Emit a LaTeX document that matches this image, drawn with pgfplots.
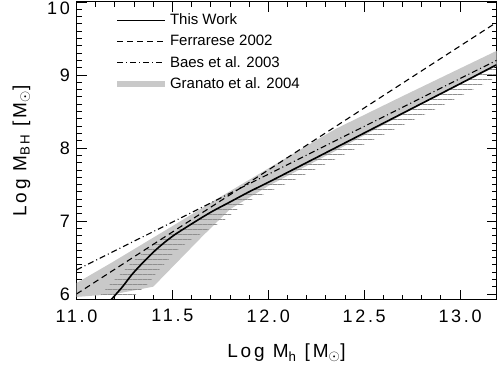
\documentclass[border=0pt]{standalone}
\usepackage{fontspec}
\setmainfont{Liberation Sans}
\newfontfamily\tickfont{Liberation Sans}[LetterSpace=15]
\usepackage{pgfplots}
\pgfplotsset{compat=1.18}
\usetikzlibrary{patterns.meta}
\definecolor{bandgray}{gray}{0.79}
\definecolor{hatchgray}{gray}{0.56}
\begin{document}
\begin{tikzpicture}
\begin{axis}[
  scale only axis, width=420pt, height=298pt,
  xmin=11.0, xmax=13.19, ymin=5.918, ymax=10.0,
  xtick={11,11.5,12,12.5,13}, minor x tick num=4,
  ytick={6,7,8,9,10}, minor y tick num=9,
  yticklabels={6,7,8,9,{\smash{\raisebox{-13pt}{10}}}},
  x tick label style={/pgf/number format/.cd, fixed, fixed zerofill, precision=1, /tikz/.cd},
  /pgf/number format/assume math mode=true,
  tick label style={font=\tickfont\fontsize{18}{18}\selectfont},
  xticklabel style={yshift=-6pt},
  yticklabel style={xshift=-3pt},
  tick align=inside, major tick length=10pt, minor tick length=5pt,
  every tick/.style={black, line width=0.8pt},
  axis line style={line width=1pt},
  label style={font=\tickfont\fontsize{19}{19}\selectfont},
  xlabel={Log M\textsubscript{h} [M\textsubscript{$\odot$}]},
  ylabel={Log M\textsubscript{BH} [M\textsubscript{$\odot$}]},
  xlabel style={at={(axis description cs:0.5,-0.178)}, anchor=center},
  ylabel style={at={(axis description cs:-0.131,0.5)}, anchor=center},
  legend image code/.code={\draw[#1] (0pt,0pt) -- (48pt,0pt);},
  legend style={draw=none, fill=none, at={(axis description cs:0.09,0.965)}, anchor=north west,
    font=\fontsize{15}{15}\selectfont, row sep=6pt, inner sep=0pt,
    nodes={inner sep=1.5pt}},
  legend cell align=left,
]
\addlegendimage{black, line width=1.6pt}
\addlegendentry{This Work}
\addlegendimage{black, line width=1.1pt, dash pattern=on 6pt off 4pt}
\addlegendentry{Ferrarese 2002}
\addlegendimage{black, line width=1.1pt, dash pattern=on 6pt off 3pt on 1pt off 3pt}
\addlegendentry{Baes et al. 2003}
\addlegendimage{bandgray, line width=6pt}
\addlegendentry{Granato et al. 2004}

% Granato et al. 2004 band
\addplot[fill=bandgray, draw=none, forget plot] coordinates {
 (11.0,6.15) (11.19,6.44) (11.5,6.93) (11.75,7.33) (12.0,7.72) (12.35,8.26)
 (12.7,8.71) (13.0,9.09) (13.19,9.33)
 (13.19,9.12) (12.8,8.60) (12.35,7.96) (12.0,7.48) (11.8,7.16) (11.66,6.80)
 (11.40,6.10) (11.2,6.00) (11.0,5.96)
} -- cycle;

% hatched region
\addplot[pattern={Lines[angle=0,distance=5pt,line width=1pt]}, pattern color=hatchgray, draw=none, forget plot] coordinates {
 (11.12,5.97) (11.18,6.15) (11.24,6.30) (11.29,6.44) (11.35,6.57) (11.41,6.71)
 (11.50,6.84) (11.60,6.96) (11.70,7.12) (11.80,7.26) (12.0,7.53) (12.4,8.07)
 (12.8,8.61) (13.19,9.14)
 (13.19,8.97) (12.9,8.57) (12.5,8.05) (12.15,7.58) (11.88,7.25) (11.77,7.01)
 (11.60,6.75) (11.51,6.57) (11.47,6.44) (11.42,6.30) (11.38,6.16) (11.30,5.97)
} -- cycle;

% Ferrarese 2002
\addplot[black, line width=1.1pt, dash pattern=on 6pt off 4pt, forget plot] coordinates {
 (11.0,6.00) (13.19,9.72)
};
% Baes et al. 2003
\addplot[black, line width=1.1pt, dash pattern=on 6pt off 3pt on 1pt off 3pt, forget plot] coordinates {
 (11.0,6.33) (13.19,9.20)
};
% This Work
\addplot[black, line width=1.6pt, smooth, forget plot] coordinates {
 (11.18,5.92) (11.24,6.10) (11.29,6.27) (11.35,6.44) (11.42,6.62) (11.50,6.79)
 (11.60,6.96) (11.70,7.12) (11.80,7.26) (11.90,7.40) (12.0,7.53) (12.2,7.80)
 (12.4,8.07) (12.6,8.34) (12.8,8.61) (13.0,8.88) (13.19,9.14)
};
\coordinate (sw) at (rel axis cs:0,0);
\coordinate (ne) at (rel axis cs:1,1);
\end{axis}
\pgfresetboundingbox
\path ([xshift=-76.5pt,yshift=-70pt]sw) rectangle ([xshift=0.5pt,yshift=2pt]ne);
\end{tikzpicture}
\end{document}
